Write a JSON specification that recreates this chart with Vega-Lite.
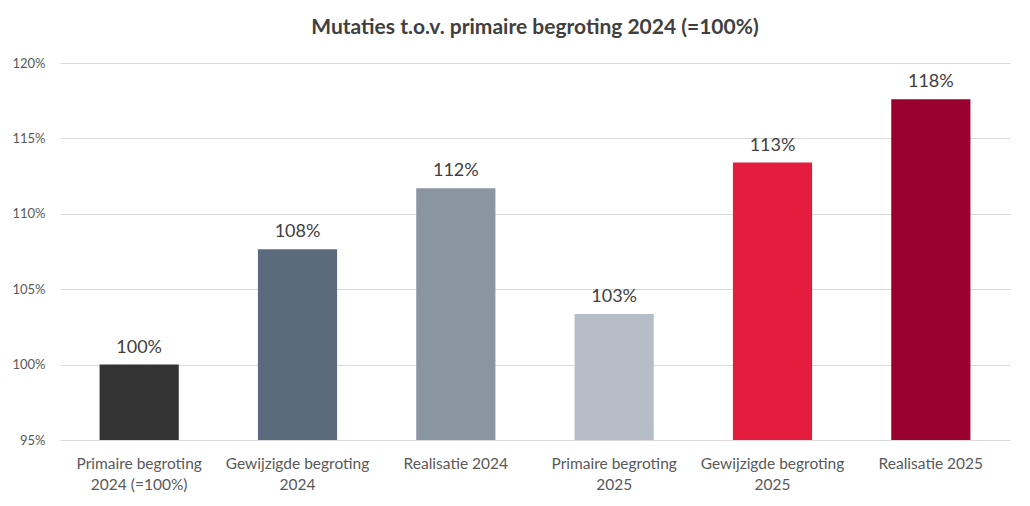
{
  "$schema": "https://vega.github.io/schema/vega-lite/v6.json",
  "autosize": {"type": "none"},
  "width": 950,
  "height": 377,
  "padding": {"left": 60, "top": 63, "right": 20, "bottom": 66},
  "background": "white",
  "title": {
    "text": "Mutaties t.o.v. primaire begroting 2024 (=100%)",
    "font": "Lato",
    "fontSize": 21,
    "fontWeight": "bold",
    "color": "#404040",
    "anchor": "middle",
    "offset": 19
  },
  "data": {
    "values": [
      {"categorie": "Primaire begroting\n2024 (=100%)", "waarde": 100.0, "label": "100%", "kleur": "#333333"},
      {"categorie": "Gewijzigde begroting\n2024", "waarde": 107.65, "label": "108%", "kleur": "#5b6b7d"},
      {"categorie": "Realisatie 2024", "waarde": 111.7, "label": "112%", "kleur": "#8995a1"},
      {"categorie": "Primaire begroting\n2025", "waarde": 103.35, "label": "103%", "kleur": "#b5bec7"},
      {"categorie": "Gewijzigde begroting\n2025", "waarde": 113.4, "label": "113%", "kleur": "#e41c3d"},
      {"categorie": "Realisatie 2025", "waarde": 117.6, "label": "118%", "kleur": "#990030"}
    ]
  },
  "encoding": {
    "x": {
      "field": "categorie",
      "type": "nominal",
      "sort": null,
      "scale": {"paddingInner": 0.5, "paddingOuter": 0.25},
      "axis": {
        "title": null,
        "labelAngle": 0,
        "labelExpr": "split(datum.label, '\\n')",
        "labelFont": "Lato",
        "labelFontSize": 15.5,
        "labelColor": "#595959",
        "labelLineHeight": 21,
        "labelPadding": 16,
        "domain": false,
        "ticks": false
      }
    },
    "y": {
      "field": "waarde",
      "type": "quantitative",
      "scale": {"domain": [95, 120], "clamp": true, "nice": false, "zero": false},
      "axis": {
        "title": null,
        "values": [95, 100, 105, 110, 115, 120],
        "labelExpr": "datum.value + '%'",
        "labelFont": "Lato",
        "labelFontSize": 13,
        "labelColor": "#595959",
        "labelPadding": 15,
        "gridColor": "#d9d9d9",
        "domain": false,
        "ticks": false
      }
    }
  },
  "layer": [
    {
      "mark": {"type": "bar", "clip": true},
      "encoding": {
        "y2": {"datum": 95},
        "color": {"field": "kleur", "type": "nominal", "scale": null}
      }
    },
    {
      "mark": {"type": "text", "baseline": "bottom", "dy": -8, "font": "Lato", "fontSize": 18, "color": "#404040"},
      "encoding": {"text": {"field": "label"}}
    }
  ],
  "config": {"view": {"stroke": null}}
}
